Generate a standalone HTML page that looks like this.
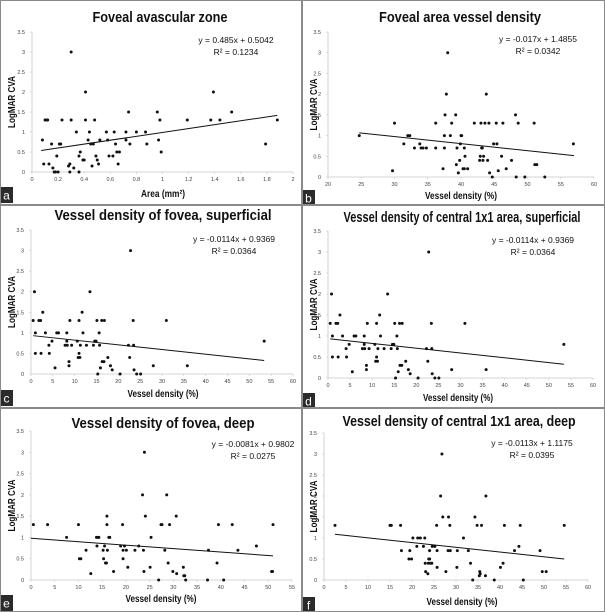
<!DOCTYPE html>
<html><head><meta charset="utf-8">
<style>
html,body{margin:0;padding:0;background:#fff;}
svg{display:block;font-family:"Liberation Sans",Arial,sans-serif;}
</style></head>
<body>
<svg id="fig" width="605" height="612" viewBox="0 0 605 612" xmlns="http://www.w3.org/2000/svg">
<rect x="0" y="0" width="605" height="612" fill="#fff"/>
</svg>
<script>
// ---- data arrays ----
const aX=[0.08,0.09,0.1,0.11,0.12,0.13,0.15,0.16,0.17,0.18,0.19,0.2,0.21,0.22,0.23,0.28,0.29,0.29,0.3,0.3,0.32,0.34,0.36,0.36,0.37,0.39,0.4,0.41,0.41,0.43,0.44,0.45,0.46,0.47,0.48,0.49,0.5,0.51,0.52,0.57,0.58,0.59,0.62,0.63,0.64,0.65,0.66,0.67,0.72,0.72,0.74,0.75,0.8,0.87,0.88,0.96,0.97,0.98,0.99,1.19,1.37,1.39,1.44,1.53,1.79,1.88];
const aY=[0.8,0.2,1.3,1.3,1.3,0.2,0.7,0.1,0,0,0.4,0,0.7,0.7,1.3,0.15,0.2,0,3,1.3,0.1,1,0.4,0,0.5,0.3,0.3,2,1.3,0.8,1,0.7,0.15,0.7,1.3,0.4,0.3,0.2,0.8,1,0.8,0.4,0.4,1,0.7,0.5,0.2,0.5,1,0.8,1.5,0.7,1,1,0.7,1.5,0.8,1.3,0.5,1.3,1.3,2,1.3,1.5,0.7,1.3];
const bX=[24.7,29.7,30,31.4,32,32.3,33,33.8,34,34.3,34.8,36.2,36.2,37.3,37.5,37.5,37.6,37.8,38,38.4,38.6,39.2,39.3,39.4,39.6,39.8,39.9,40,40.1,40.3,40.5,40.5,40.6,41,42,42.8,42.9,43,43.1,43.2,43.3,43.4,43.6,43.8,44,44.2,44.3,44.7,44.9,45.3,45.4,45.6,46.1,46.3,46.8,47.6,48.2,48.3,48.6,49.6,51,51.1,51.4,52.6,56.9];
const bY=[1,0.15,1.3,0.8,1,1,0.7,0.8,0.7,0.7,0.7,1.3,0.7,0.2,1,0.7,1.5,2,3,1,1.3,1.5,0.3,0.7,0.1,0.4,0.8,1,1,0.2,0.2,0.7,0.5,0.2,1.3,0.4,0.5,1.3,0.7,0.7,0.4,0.5,1.3,2,0.4,1.3,0.1,0,0.8,1.3,0.8,0.15,0.5,1.3,0.2,0.4,1.5,0,1.3,0,1.3,0.3,0.3,0,0.8];
const cX=[0.5,0.8,1,1,1.8,2.2,2.3,2.7,3.3,4.1,4.2,4.8,5.5,5.9,6.3,7.8,8.2,8.2,8.3,8.7,8.7,8.9,9.3,10.6,10.8,11,11,11.2,11.3,11.7,11.9,12.7,13.5,14.3,14.6,14.9,15.1,15.3,15.6,15.7,15.9,16.2,16.3,16.7,16.8,17.6,18.2,18.6,20.4,22.3,22.6,22.8,23.4,23.5,23.6,24.2,25.1,28,31,35.8,53.4];
const cY=[1.3,2,1,0.5,1.3,1.3,0.5,1.5,1,0.7,0.5,0.8,0.15,1,1,0.7,1,0.8,0.7,0.3,0.2,1.3,0.7,0.8,0.4,1.3,0.5,0.4,0.7,1.5,1,0.7,2,0.7,0.8,0.8,1.3,0,1,0.7,0.15,1.3,0.3,0.3,1.3,0.4,0.2,0.1,0,0.7,0.4,3,1.3,0.7,0.1,0,0,0.2,1.3,0.2,0.8];
const eX=[0.5,3.5,7.5,10,10.2,10.5,11.6,12.6,13.8,13.9,14.1,14.3,15.2,15.3,15.5,15.7,15.9,16,16,16.1,16.4,16.6,17.4,18.9,19.3,19.4,19.4,19.7,20.1,20.4,21.9,22.7,23.5,23.7,23.8,23.9,24.1,25.1,25.3,26.9,27.4,27.6,28.2,28.6,28.9,29.2,29.9,30.6,30.7,32.1,32.2,32.4,32.6,37.2,37.4,39.2,39.5,40.6,42.4,43.6,47.5,50.7,50.9,51];
const eY=[1.3,1.3,1,1.3,0.5,0.5,0.7,0.15,1,0.8,1,1,0.7,0.5,0.8,0.4,0.4,1.5,1.3,0.7,1,1,0.2,0.8,1.3,0.7,0.5,0.8,0.7,0.3,0.7,0.8,2,0.7,0.2,3,1.5,0.3,1,0,1.3,1.3,0.7,2,0.4,1.3,0.2,1.5,0.15,0.3,0.1,0.1,0,0,0.7,0.4,1.3,0,1.3,0.7,0.8,0.2,0.2,1.3];
const fX=[2.5,15,15.3,17.4,17.6,19.5,19.3,19.9,20.2,21.1,21.3,21.9,22.6,22.9,23,23.1,23.6,23.7,23.8,24,24,24.2,24.5,24.6,25.2,25.6,25.7,25.7,26.5,26.8,27,27.7,28.2,28.3,28.6,28.7,30.2,30.3,31.7,32.8,33.3,33.8,34.3,34.8,35.3,35.4,35.5,35.8,36.7,36.8,38.7,40.1,40.7,41,43.3,44.3,44.6,45.3,49.1,49.6,50.5,54.6];
const fY=[1.3,1.3,1.3,1.3,0.7,0.7,0.5,0.5,1,0.8,1,1,0.8,1,0.4,0.2,0.15,0.4,0.5,0.7,0.5,0.4,0.4,0.8,0.8,1.3,0.7,0.3,2,3,1.5,0.2,0.7,1.5,1.3,0.7,0.3,0.7,1,0.7,0.4,0,1.5,1.3,0.1,0.2,0.15,1.3,0.1,2,0,0.3,0.4,1.3,0.7,0.8,1.3,0,0.7,0.2,0.2,1.3];
const slopes=[0.485,-0.017,-0.0114,-0.0114,-0.0081,-0.0113];
const intercepts=[0.5042,1.4855,0.9369,0.9369,0.9802,1.1175];
const yTicks=[0,0.5,1,1.5,2,2.5,3,3.5];
const yTickLabels=["0","0.5","1","1.5","2","2.5","3","3.5"];
const xTicksA=[0,0.2,0.4,0.6,0.8,1,1.2,1.4,1.6,1.8,2];
const xTicksB=[20,25,30,35,40,45,50,55,60];
const xTicks60=[0,5,10,15,20,25,30,35,40,45,50,55,60];
const xTicks55=[0,5,10,15,20,25,30,35,40,45,50,55];

const NS="http://www.w3.org/2000/svg";
const svg=document.getElementById('fig');
function mk(tag,attrs,parent,txt){const e=document.createElementNS(NS,tag);for(const k in attrs)e.setAttribute(k,attrs[k]);if(txt!==undefined)e.textContent=txt;(parent||svg).appendChild(e);return e;}

const panels=[
 {id:'a',ox:0,oy:0,px0:32,px1:293,py0:172,py1:32,xmin:0,xmax:2,xt:xTicksA,xs:xTicksA.map(String),X:aX,Y:aY,lx0:0.07,lx1:1.88,
  title:'Foveal avascular zone',tY:22,tX:160,tW:135,eq:['y = 0.485x + 0.5042','R² = 0.1234'],eqX:236,eqY:43,xl:'Area (mm²)',xlX:163,xlY:197,xlW:44,by:187},
 {id:'b',ox:302,oy:0,px0:26,px1:292,py0:177,py1:32,xmin:20,xmax:60,xt:xTicksB,xs:xTicksB.map(String),X:bX,Y:bY,lx0:24.7,lx1:57,
  title:'Foveal area vessel density',tY:22,tX:158,tW:162,eq:['y = -0.017x + 1.4855','R² = 0.0342'],eqX:236,eqY:42,xl:'Vessel density (%)',xlX:159,xlY:199,xlW:72,by:190},
 {id:'c',ox:0,oy:205,px0:31,px1:293,py0:169,py1:25,xmin:0,xmax:60,xt:xTicks60,xs:xTicks60.map(String),X:cX,Y:cY,lx0:0.5,lx1:53.4,
  title:'Vessel density of fovea, superficial',tY:15,tX:163,tW:217,eq:['y = -0.0114x + 0.9369','R² = 0.0364'],eqX:234,eqY:37,xl:'Vessel density (%)',xlX:163,xlY:192,xlW:71,by:185},
 {id:'d',ox:302,oy:205,px0:26,px1:291,py0:173,py1:26,xmin:0,xmax:60,xt:xTicks60,xs:xTicks60.map(String),X:cX,Y:cY,lx0:0.5,lx1:53.4,
  title:'Vessel density of central 1x1 area, superficial',tY:17,tX:160,tW:237,eq:['y = -0.0114x + 0.9369','R² = 0.0364'],eqX:231,eqY:38,xl:'Vessel density (%)',xlX:156,xlY:196,xlW:70,by:188},
 {id:'e',ox:0,oy:408,px0:31,px1:292,py0:172,py1:23,xmin:0,xmax:55,xt:xTicks55,xs:xTicks55.map(String),X:eX,Y:eY,lx0:0,lx1:51,
  title:'Vessel density of fovea, deep',tY:20,tX:163,tW:183,eq:['y = -0.0081x + 0.9802','R² = 0.0275'],eqX:253,eqY:39,xl:'Vessel density (%)',xlX:161,xlY:194,xlW:71,by:187},
 {id:'f',ox:302,oy:408,px0:22,px1:286,py0:172,py1:25,xmin:0,xmax:60,xt:xTicks60,xs:xTicks60.map(String),X:fX,Y:fY,lx0:2.5,lx1:54.6,
  title:'Vessel density of central 1x1 area, deep',tY:18,tX:157,tW:233,eq:['y = -0.0113x + 1.1175','R² = 0.0395'],eqX:230,eqY:38,xl:'Vessel density (%)',xlX:160,xlY:197,xlW:71,by:189}
];

panels.forEach((p,i)=>{
  const g=mk('g',{transform:`translate(${p.ox},${p.oy})`});
  
  
  const sx=v=>p.px0+(v-p.xmin)/(p.xmax-p.xmin)*(p.px1-p.px0);
  const sy=v=>p.py0-(v/3.5)*(p.py0-p.py1);
  const t=mk('text',{x:p.tX,y:p.tY,'text-anchor':'middle','font-size':15,'font-weight':'bold',fill:'#111',textLength:p.tW,lengthAdjust:'spacingAndGlyphs'},g,p.title);
  
  
  // axes
  const ax=mk('line',{x1:p.px0,y1:p.py0,x2:p.px1,y2:p.py0,stroke:'#c8c8c8','stroke-width':0.8},g);
  
  
  const ay=mk('line',{x1:p.px0,y1:p.py0,x2:p.px0,y2:p.py1,stroke:'#c8c8c8','stroke-width':0.8},g);
  
  
  yTicks.forEach((v,k)=>{
    const tl=mk('text',{x:p.px0-7,y:sy(v)+2,'text-anchor':'end','font-size':5.5,fill:'#444'},g,yTickLabels[k]);
    
    
    mk('line',{x1:p.px0-2,y1:sy(v),x2:p.px0,y2:sy(v),stroke:'#c8c8c8','stroke-width':0.6},g);
  });
  p.xt.forEach((v,k)=>{
    const tl=mk('text',{x:sx(v),y:p.py0+9,'text-anchor':'middle','font-size':5.5,fill:'#444'},g,p.xs[k]);
    
    
    mk('line',{x1:sx(v),y1:p.py0,x2:sx(v),y2:p.py0+2,stroke:'#c8c8c8','stroke-width':0.6},g);
  });
  const yl=mk('text',{x:0,y:0,transform:`translate(15,${(p.py0+p.py1)/2}) rotate(-90)`,'text-anchor':'middle','font-size':10,'font-weight':'bold',fill:'#111',textLength:52,lengthAdjust:'spacingAndGlyphs'},g,'LogMAR CVA');
  
  
  const xl=mk('text',{x:p.xlX,y:p.xlY,'text-anchor':'middle','font-size':10,'font-weight':'bold',fill:'#111',textLength:p.xlW,lengthAdjust:'spacingAndGlyphs'},g,p.xl);
  
  
  // trend line
  const tr=mk('line',{x1:sx(p.lx0),y1:sy(slopes[i]*p.lx0+intercepts[i]),x2:sx(p.lx1),y2:sy(slopes[i]*p.lx1+intercepts[i]),stroke:'#111','stroke-width':1},g);
  
  
  // points
  p.X.forEach((x,k)=>{
    const c=mk('circle',{cx:sx(x),cy:sy(p.Y[k]),r:1.5,fill:'#111'},g);
    
    
  });
  // equation
  p.eq.forEach((s,k)=>{
    const e=mk('text',{x:p.eqX,y:p.eqY+k*12,'text-anchor':'middle','font-size':8.5,fill:'#111'},g,s);
    
    
  });
  // panel letter
  const lb=mk('rect',{x:0,y:p.by,width:13,height:16,fill:'#2b2b2b'},g);
  
  
  const lt=mk('text',{x:6.5,y:p.by+12.5,'text-anchor':'middle','font-size':12,fill:'#fff'},g,p.id);
  
  
});
// borders
[[0,0,605,0],[0,612,605,612],[0,0,0,612],[605,0,605,612],[302,0,302,612],[0,205,605,205],[0,408,605,408]].forEach(l=>{
  const b=mk('line',{x1:l[0],y1:l[1],x2:l[2],y2:l[3],stroke:'#8a8a8a','stroke-width':2});
  
  
});
</script>
</body></html>
